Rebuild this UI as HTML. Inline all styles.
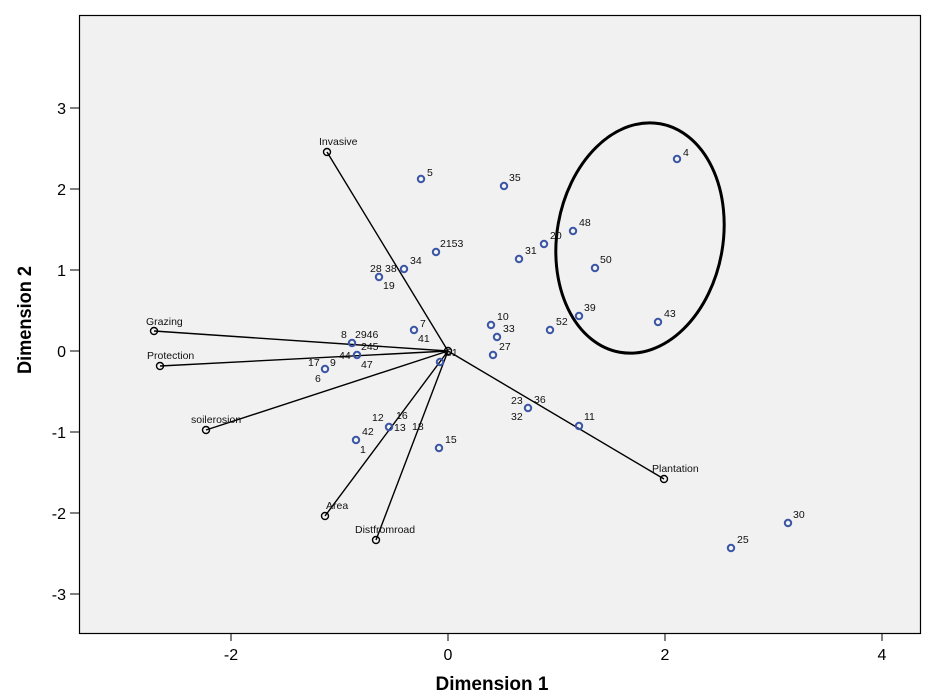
<!DOCTYPE html>
<html><head><meta charset="utf-8"><style>
html,body{margin:0;padding:0;background:#fff;}
svg{display:block;}
text{font-family:"Liberation Sans",Arial,sans-serif;}
.l{font-size:10.5px;fill:#111;}
.t{font-size:16px;fill:#000;}
</style></head><body>
<svg width="930" height="696" xmlns="http://www.w3.org/2000/svg">
<rect x="0" y="0" width="930" height="696" fill="#fff"/>
<rect x="79.5" y="15.5" width="841" height="618" fill="#f1f1f1" stroke="#000" stroke-width="1.2"/>
<g stroke="#000" stroke-width="1">
<line x1="70" y1="108" x2="79" y2="108"/><line x1="70" y1="189" x2="79" y2="189"/><line x1="70" y1="270" x2="79" y2="270"/><line x1="70" y1="351" x2="79" y2="351"/><line x1="70" y1="432" x2="79" y2="432"/><line x1="70" y1="513" x2="79" y2="513"/><line x1="70" y1="594" x2="79" y2="594"/>
<line x1="231" y1="634" x2="231" y2="641"/><line x1="448" y1="634" x2="448" y2="641"/><line x1="665" y1="634" x2="665" y2="641"/><line x1="882" y1="634" x2="882" y2="641"/>
</g>
<g class="t" text-anchor="end">
<text x="66" y="114">3</text><text x="66" y="195">2</text><text x="66" y="276">1</text><text x="66" y="357">0</text><text x="66" y="438">-1</text><text x="66" y="519">-2</text><text x="66" y="600">-3</text>
</g>
<g class="t" text-anchor="middle">
<text x="231" y="660">-2</text><text x="448" y="660">0</text><text x="665" y="660">2</text><text x="882" y="660">4</text>
</g>
<text x="492" y="690" text-anchor="middle" style="font-size:19px;font-weight:bold">Dimension 1</text>
<text transform="translate(31,320) rotate(-90)" text-anchor="middle" textLength="108" lengthAdjust="spacingAndGlyphs" style="font-size:19px;font-weight:bold">Dimension 2</text>
<g stroke="#000" stroke-width="1.4" fill="none">
<line x1="448" y1="351" x2="327" y2="152"/>
<line x1="448" y1="351" x2="154" y2="331"/>
<line x1="448" y1="351" x2="160" y2="366"/>
<line x1="448" y1="351" x2="206" y2="430"/>
<line x1="448" y1="351" x2="325" y2="516"/>
<line x1="448" y1="351" x2="376" y2="540"/>
<line x1="448" y1="351" x2="664" y2="479"/>
<circle cx="327" cy="152" r="3.5"/><circle cx="154" cy="331" r="3.5"/><circle cx="160" cy="366" r="3.5"/><circle cx="206" cy="430" r="3.5"/><circle cx="325" cy="516" r="3.5"/><circle cx="376" cy="540" r="3.5"/><circle cx="664" cy="479" r="3.5"/><circle cx="448" cy="351" r="3.5"/>
</g>
<g class="l">
<text x="319" y="145">Invasive</text><text x="146" y="325">Grazing</text><text x="147" y="359">Protection</text><text x="191" y="423">soilerosion</text><text x="326" y="509">Area</text><text x="355" y="533">Distfromroad</text><text x="652" y="472">Plantation</text>
</g>
<ellipse cx="640" cy="238" rx="83" ry="116" transform="rotate(10 640 238)" fill="none" stroke="#000" stroke-width="3"/>
<g stroke="#3a55a5" stroke-width="2" fill="none">
<circle cx="421" cy="179" r="3.2"/><circle cx="504" cy="186" r="3.2"/><circle cx="677" cy="159" r="3.2"/><circle cx="436" cy="252" r="3.2"/><circle cx="404" cy="269" r="3.2"/><circle cx="379" cy="277" r="3.2"/><circle cx="519" cy="259" r="3.2"/><circle cx="544" cy="244" r="3.2"/><circle cx="573" cy="231" r="3.2"/><circle cx="595" cy="268" r="3.2"/><circle cx="579" cy="316" r="3.2"/><circle cx="658" cy="322" r="3.2"/><circle cx="550" cy="330" r="3.2"/><circle cx="491" cy="325" r="3.2"/><circle cx="497" cy="337" r="3.2"/><circle cx="493" cy="355" r="3.2"/><circle cx="414" cy="330" r="3.2"/><circle cx="352" cy="343" r="3.2"/><circle cx="357" cy="355" r="3.2"/><circle cx="325" cy="369" r="3.2"/><circle cx="440" cy="362" r="3.2"/><circle cx="528" cy="408" r="3.2"/><circle cx="579" cy="426" r="3.2"/><circle cx="389" cy="427" r="3.2"/><circle cx="356" cy="440" r="3.2"/><circle cx="439" cy="448" r="3.2"/><circle cx="788" cy="523" r="3.2"/><circle cx="731" cy="548" r="3.2"/>
</g>
<g class="l">
<text x="427" y="176">5</text><text x="509" y="181">35</text><text x="683" y="156">4</text><text x="440" y="247">2153</text><text x="410" y="264">34</text><text x="370" y="272">28</text><text x="385" y="272">38</text><text x="383" y="289">19</text><text x="525" y="254">31</text><text x="550" y="239">20</text><text x="579" y="226">48</text><text x="600" y="263">50</text><text x="584" y="311">39</text><text x="664" y="317">43</text><text x="556" y="325">52</text><text x="497" y="320">10</text><text x="503" y="332">33</text><text x="499" y="350">27</text><text x="420" y="327">7</text><text x="418" y="342">41</text><text x="341" y="338">8</text><text x="355" y="338">2946</text><text x="339" y="359">44</text><text x="361" y="350">245</text><text x="361" y="368">47</text><text x="308" y="366">17</text><text x="330" y="366">9</text><text x="315" y="382">6</text><text x="446" y="356">51</text><text x="511" y="404">23</text><text x="534" y="403">36</text><text x="511" y="420">32</text><text x="584" y="420">11</text><text x="372" y="421">12</text><text x="396" y="419">16</text><text x="394" y="431">13</text><text x="412" y="430">18</text><text x="362" y="435">42</text><text x="360" y="453">1</text><text x="445" y="443">15</text><text x="793" y="518">30</text><text x="737" y="543">25</text>
</g>
</svg>
</body></html>
